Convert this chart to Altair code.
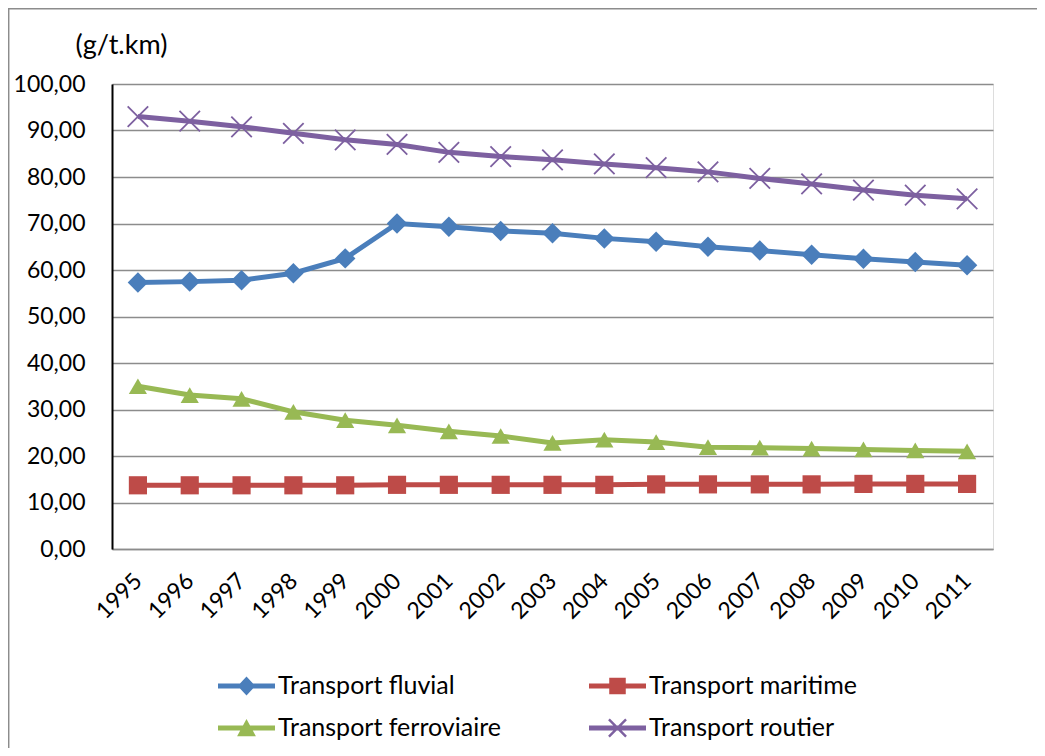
import altair as alt
import pandas as pd

years = ["1995", "1996", "1997", "1998", "1999", "2000", "2001", "2002", "2003",
         "2004", "2005", "2006", "2007", "2008", "2009", "2010", "2011"]
series_names = ["Transport fluvial", "Transport maritime", "Transport ferroviaire", "Transport routier"]
series_colors = ["#4A7EBB", "#BE4B48", "#98B954", "#7D60A0"]

fluvial = [57.3, 57.5, 57.8, 59.3, 62.5, 70.0, 69.3, 68.4, 67.9, 66.8, 66.1, 65.0, 64.2, 63.3, 62.4, 61.7, 61.0]
maritime = [13.7, 13.7, 13.7, 13.7, 13.7, 13.8, 13.8, 13.8, 13.8, 13.8, 13.9, 13.9, 13.9, 13.9, 14.0, 14.0, 14.0]
ferroviaire = [35.0, 33.1, 32.3, 29.5, 27.7, 26.6, 25.3, 24.3, 22.8, 23.5, 23.0, 21.9, 21.8, 21.6, 21.4, 21.2, 21.0]
routier = [93.0, 92.0, 90.8, 89.4, 88.0, 87.0, 85.3, 84.4, 83.7, 82.8, 82.0, 81.1, 79.7, 78.5, 77.2, 76.1, 75.3]

y_ticks = [0, 10, 20, 30, 40, 50, 60, 70, 80, 90, 100]

rows = []
for name, vals in zip(series_names, [fluvial, maritime, ferroviaire, routier]):
    for yr, v in zip(years, vals):
        rows.append({"year": yr, "series": name, "value": v})
df = pd.DataFrame(rows)

FONT = "Lato"
GRID = "#8c8c8c"

# legend symbols: line segment + marker, drawn in a [-1,1] box
LINE = "M-1,-0.09L1,-0.09L1,0.09L-1,0.09Z"
shape_paths = {
    "Transport fluvial": LINE + "M0,-0.33L0.31,0L0,0.33L-0.31,0Z",
    "Transport maritime": LINE + "M-0.29,-0.29L0.29,-0.29L0.29,0.29L-0.29,0.29Z",
    "Transport ferroviaire": LINE + "M0,-0.32L0.33,0.29L-0.33,0.29Z",
    "Transport routier": LINE + "M-0.27,-0.33L0.33,0.27L0.27,0.33L-0.33,-0.27Z"
                         + "M-0.33,0.27L0.27,-0.33L0.33,-0.27L-0.27,0.33Z",
}
color_of = dict(zip(series_names, series_colors))
# legend reads column by column: put entries so rows read fluvial/maritime, ferroviaire/routier
legend_order = ["Transport fluvial", "Transport ferroviaire", "Transport maritime", "Transport routier"]

color_scale = alt.Scale(domain=series_names, range=series_colors)

x_enc = alt.X(
    "year:O",
    scale=alt.Scale(type="point", padding=0.5),
    axis=alt.Axis(
        title=None, labelAngle=-45, labelAlign="right", labelBaseline="middle",
        labelPadding=28, labelOffset=0, ticks=False, grid=False,
        domainColor=GRID, domainWidth=1.7, labelFontSize=23, labelColor="black",
        labelFont=FONT,
    ),
)
y_enc = alt.Y(
    "value:Q",
    scale=alt.Scale(domain=[0, 100], nice=False, zero=True),
    axis=alt.Axis(
        values=y_ticks, labelExpr="replace(format(datum.value, '.2f'), '.', ',')",
        ticks=False, domainColor="black", domainWidth=2, grid=True, gridColor=GRID,
        gridWidth=1.7, labelFontSize=23, labelColor="black", labelFont=FONT,
        labelPadding=27, title="(g/t.km)", titleAngle=0, titleX=-37, titleY=-39,
        titleAlign="left", titleBaseline="middle", titleFontSize=27,
        titleFontWeight="normal", titleFont=FONT, titleColor="black",
    ),
)

base = alt.Chart(df)

border = alt.Chart(pd.DataFrame({"b": [0]})).mark_rect(
    fill="transparent", stroke=GRID, strokeWidth=1.5
).encode(
    x=alt.value(-103.3), y=alt.value(-75.3), x2=alt.value(1200), y2=alt.value(1000)
)

lines = base.mark_line(strokeWidth=5).encode(
    x=x_enc, y=y_enc,
    color=alt.Color("series:N", scale=color_scale, legend=None),
    detail="series:N",
)

def pts(name, shape, size):
    return base.transform_filter(alt.datum.series == name).mark_point(
        filled=True, shape=shape, size=size, opacity=1
    ).encode(
        x=x_enc, y=y_enc,
        color=alt.Color("series:N", scale=color_scale, legend=None),
    )

p_fluv = pts("Transport fluvial", "diamond", 420)
p_mar = pts("Transport maritime", "square", 330)
p_fer = pts("Transport ferroviaire", "triangle-up", 330)
p_rout = base.transform_filter(alt.datum.series == "Transport routier").mark_point(
    filled=False, shape="M-1,-1L1,1M-1,1L1,-1", size=420, strokeWidth=1.8, opacity=1
).encode(
    x=x_enc, y=y_enc,
    color=alt.Color("series:N", scale=color_scale, legend=None),
)

legend_props = dict(
    orient="none", legendX=106, legendY=590, columns=2, columnPadding=88,
    rowPadding=17, clipHeight=24, symbolSize=3249, symbolStrokeWidth=0,
    labelFontSize=25, labelFont=FONT, labelColor="black", labelOffset=3,
    title=None, padding=0, labelLimit=400,
)

legend_layer = base.transform_filter("false").mark_point(filled=True, opacity=1).encode(
    color=alt.Color(
        "series:N",
        scale=alt.Scale(domain=legend_order, range=[color_of[s] for s in legend_order]),
        legend=alt.Legend(**legend_props),
    ),
    shape=alt.Shape(
        "series:N",
        scale=alt.Scale(domain=legend_order, range=[shape_paths[s] for s in legend_order]),
        legend=alt.Legend(**legend_props),
    ),
)

chart = alt.layer(
    border, lines, p_fluv, p_mar, p_fer, p_rout, legend_layer
).resolve_scale(
    color="independent", shape="independent"
).properties(
    width=881, height=465,
    autosize=alt.AutoSizeParams(type="none"),
    padding={"left": 104, "top": 76, "right": 44, "bottom": 199},
).configure_view(
    stroke=None
).configure(
    background="white"
)

chart.save("out.html", embed_options={"renderer": "svg", "actions": False})
